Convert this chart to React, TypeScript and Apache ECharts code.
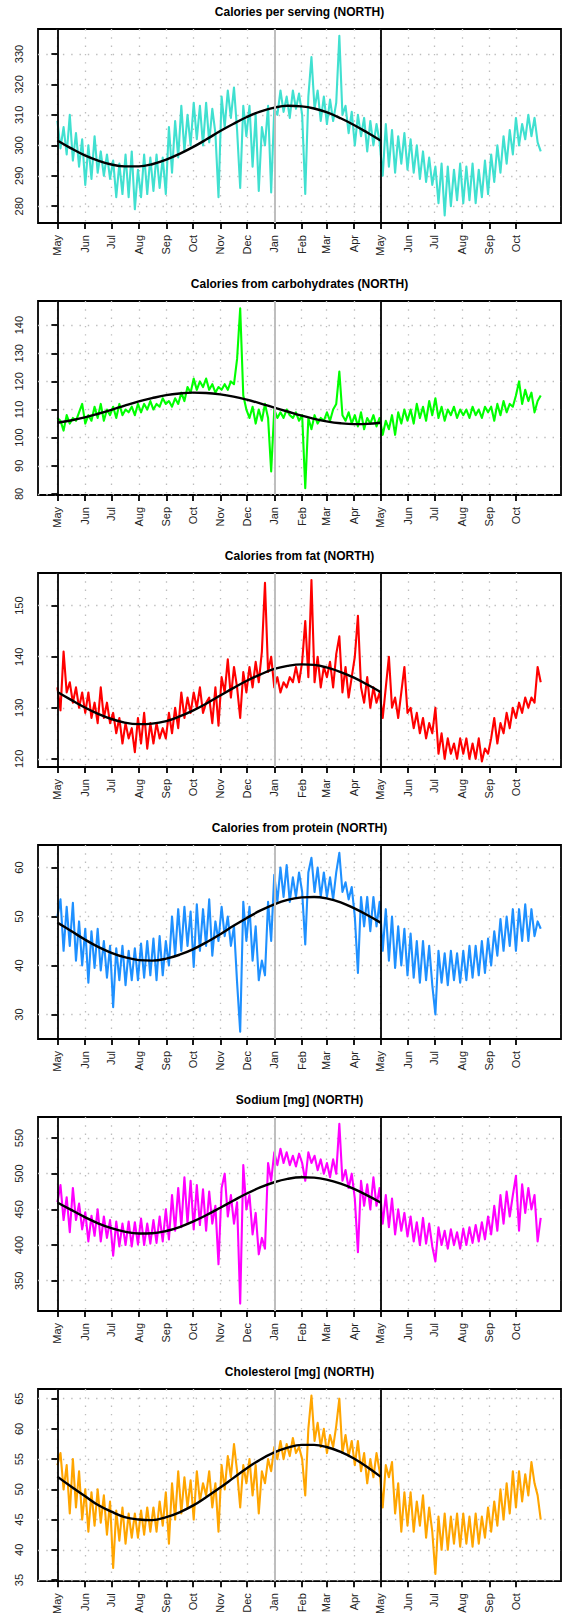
import React, { useEffect, useRef } from 'react';
import * as echarts from 'echarts';

// ---- x axis (days since 1 May of the first year) ----
const STEP_DAYS = 3.5; // sampling step of the series below (two samples per week)
const X_MIN = -21.9;
const X_MAX = 568.9;
const monthDays = [0, 31, 61, 92, 123, 153, 184, 214, 245, 276, 304, 335, 365, 396, 426, 457, 488, 518];
const monthLabels = ['May', 'Jun', 'Jul', 'Aug', 'Sep', 'Oct', 'Nov', 'Dec', 'Jan', 'Feb', 'Mar', 'Apr', 'May', 'Jun', 'Jul', 'Aug', 'Sep', 'Oct'];
const fitDays = [0, 15, 31, 46, 61, 76, 92, 107, 123, 138, 153, 168, 184, 199, 214, 229, 245, 260, 276, 290, 304, 320, 335, 350, 365];
const markerDays = [0, 245, 365];

// ---- titles / colours ----
const titles = [
  'Calories per serving (NORTH)',
  'Calories from carbohydrates (NORTH)',
  'Calories from fat (NORTH)',
  'Calories from protein (NORTH)',
  'Sodium [mg] (NORTH)',
  'Cholesterol [mg] (NORTH)',
];
const colors = ['#40E0D0', '#00FF00', '#FF0000', '#1E90FF', '#FF00FF', '#FFA500'];

// ---- y tick labels ----
const ticksCalServing = [280, 290, 300, 310, 320, 330];
const ticksCarb = [80, 90, 100, 110, 120, 130, 140];
const ticksFat = [120, 130, 140, 150];
const ticksProtein = [30, 40, 50, 60];
const ticksSodium = [350, 400, 450, 500, 550];
const ticksChol = [35, 40, 45, 50, 55, 60, 65];

// ---- y ranges ----
const rangeCalServing = [274.5, 338.2];
const rangeCarb = [79.6, 148.6];
const rangeFat = [118.4, 156.4];
const rangeProtein = [25.0, 64.6];
const rangeSodium = [307.6, 579.4];
const rangeChol = [34.8, 66.6];

// ---- series values (one value every 3.5 days, May .. Oct of the next year) ----
const calServing = [
  308, 299, 306, 297, 310, 295, 304, 293, 302, // May
  287, 300, 289, 303, 291, 298, 290, 297, 289, // Jun
  295, 283, 294, 284, 297, 283, 298, 279, 292, // Jul
  283, 297, 284, 296, 285, 297, 286, 296, 284, // Aug
  306, 291, 308, 296, 313, 298, 310, 300, // Sep
  314, 302, 313, 300, 314, 301, 312, 304, 283, // Oct
  316, 306, 318, 309, 319, 305, 286, 313, 303, // Nov
  313, 293, 310, 285, 306, 300, 313, 284.5, // Dec
  312, 310, 318, 311, 316, 309, 318, 312, 317, // Jan
  310, 284, 316, 329, 312, 318, 308, 316, // Feb
  307, 315, 308, 314, 336, 310, 313, 304, 311, // Mar
  300, 310, 303, 309, 298, 308, 300, 307, 301, // Apr
  290, 307, 293, 305, 291, 303, 294, 304, 292, // May
  302, 291, 300, 289, 298, 288, 296, 287, // Jun
  293, 281, 294, 277, 293, 280, 292, 282, 294, // Jul
  281, 293, 282, 294, 281, 292, 283, 295, 284, // Aug
  297, 288, 300, 291, 303, 294, 305, 297, // Sep
  309, 300, 307, 302, 310, 303, 309, 301, 298, // Oct
];
const carb = [
  107, 106, 102.5, 108, 105, 107, 106, 109, 112,
  105, 108, 106, 111, 107, 112, 106, 110, 108,
  111, 107, 112, 108, 110, 109, 111, 108, 112,
  109, 112, 110, 113, 110, 112, 111, 114, 112,
  113, 111, 114, 112, 116, 113, 118, 116,
  121, 117, 120, 118, 121, 117, 119, 116, 118,
  117, 119, 117, 120, 119, 128, 146, 115, 110,
  107, 111, 105, 110, 106, 112, 107, 88,
  110, 107, 109, 107, 110, 108, 107, 109, 106,
  108, 82, 107, 103, 108, 105, 107, 106,
  109, 106, 110, 112, 123.5, 108, 106, 109, 105,
  108, 104, 109, 103, 107, 105, 108, 104, 107,
  101, 106, 103, 108, 101, 109, 105, 110, 106,
  110, 105, 112, 107, 111, 106, 113, 108,
  114, 107, 111, 106, 110, 108, 111, 107, 110,
  108, 110, 107, 111, 108, 110, 107, 111, 109,
  111, 106, 112, 108, 113, 109, 112, 111,
  115, 120, 112, 117, 113, 116, 109, 113, 115,
];
const fat = [
  134, 129.5, 141, 133, 135, 131, 134, 130, 133,
  129, 133, 128, 131, 127, 134, 128, 131, 127,
  129, 125, 128, 123, 127, 124, 126, 121.3, 128,
  123, 129, 122, 127, 123, 127, 124, 126, 124,
  129, 125, 130, 126, 133, 128, 132, 129,
  133, 130, 134, 129, 131, 132, 127, 134, 126.5,
  136, 133, 139.5, 132, 138, 134, 128, 137, 133,
  138, 134, 139, 135, 141, 154.5, 137, 140,
  134, 136, 133, 135, 134, 136, 135, 138, 135,
  139, 147, 136, 155, 135, 140, 134, 138,
  136, 139, 134, 140.5, 144, 133, 138, 132, 136,
  140, 148, 134, 131, 136, 130, 134, 131, 133,
  128, 134, 140, 130, 132, 128, 133, 138, 129,
  130, 126, 129, 125, 128, 124, 127, 125,
  130, 121, 125, 120, 124, 121, 123, 120, 124,
  121, 124, 120, 123, 120, 124, 119.5, 122, 121,
  124, 128, 123, 127, 125, 129, 126, 130,
  128, 131, 129, 132, 130, 132, 131, 138, 135,
];
const protein = [
  50, 53.5, 43, 52, 44, 52.8, 41, 49, 40,
  47.5, 36.5, 47, 39.5, 47.5, 39, 45, 37.5, 44,
  31.5, 43.5, 37, 44, 36, 43, 37, 43.5, 37,
  44.5, 37.5, 45, 38, 45.5, 37, 46, 38, 45,
  40, 50, 42, 51.5, 43, 52, 44, 51,
  39.7, 52.5, 43, 51.5, 44, 53.5, 42, 49, 45,
  52, 46, 50, 44, 48, 36.5, 26.5, 53, 45,
  52, 41, 48, 37, 41, 38, 53, 45,
  58.5, 53, 60, 54, 60.5, 53, 58, 54, 59,
  55, 44.3, 59, 62, 55, 60, 54, 59,
  54, 58, 53.5, 59, 63, 55, 57, 53.5, 56,
  50, 38.5, 54, 48, 54, 47, 54, 48, 53,
  43, 51.5, 41, 50, 39.5, 48, 40, 47.5, 38,
  46.5, 37.5, 45, 36.5, 45, 37, 44, 36,
  30, 43, 36.5, 42.5, 36, 43, 37, 42.5, 36.5,
  43, 37, 44, 37.5, 44, 38, 45, 38.5, 45.5,
  40, 47, 42, 49.5, 43, 50, 44, 51.5,
  43, 51.5, 45, 52.5, 45, 51.5, 46, 49, 47.5,
];
const sodium = [
  460, 484, 435, 467, 418, 480, 435, 458, 422,
  446, 405, 441, 413, 450, 405, 440, 410, 435,
  385, 433, 398, 430, 400, 433, 398, 432, 401,
  437, 400, 430, 402, 435, 403, 440, 405, 450,
  408, 470, 420, 480, 425, 495, 430, 490,
  422, 484, 428, 478, 420, 475, 430, 455, 373,
  480, 500, 440, 470, 430, 460, 318, 512, 450,
  470, 415, 445, 387, 410, 395, 515, 490,
  530, 512, 535, 515, 530, 512, 525, 510, 528,
  515, 490, 530, 515, 525, 505, 520, 500,
  515, 495, 520, 500, 570, 490, 505, 480, 500,
  465, 390, 490, 455, 485, 450, 495, 455, 480,
  430, 470, 425, 465, 415, 450, 420, 445, 412,
  440, 405, 432, 400, 438, 402, 430, 398,
  377, 425, 400, 420, 395, 422, 400, 418, 395,
  423, 400, 425, 403, 428, 405, 432, 408, 440,
  415, 455, 420, 470, 430, 475, 440, 470,
  497, 420, 485, 445, 480, 450, 470, 405, 438,
];
const cholesterol = [
  54, 56, 50, 54, 46, 55, 47, 53, 45,
  50, 43, 49.5, 44, 50, 44.5, 49, 42.5, 48,
  37, 46.5, 41.5, 47, 41, 46, 42, 46, 42,
  46.5, 42.5, 47, 43, 47, 43, 48, 44, 49.5,
  41, 51, 45, 53, 46, 52, 47, 51.5,
  45, 53, 48, 51, 49, 53, 47, 51, 43,
  54, 50, 55.5, 52, 57.5, 53, 47, 54, 51,
  55, 49, 54, 46, 53, 51, 55, 53,
  57, 55, 58, 55, 57.5, 55.5, 58.5, 56, 57,
  55, 49, 60, 65.5, 58, 61, 57, 60,
  56, 59, 57, 60.5, 65, 56, 59, 55.5, 58,
  54, 58, 53, 56, 51, 55, 52, 56, 53,
  47, 54, 52, 54.5, 46, 51, 43, 49.5, 44,
  49.5, 43, 48, 44, 49, 42, 47, 43,
  36, 45.5, 40, 46, 40, 45.5, 41, 46, 40.5,
  46, 41, 45.5, 40.5, 46, 41, 45.5, 42, 47,
  43, 48, 44, 50, 45, 51, 46, 53,
  47, 53, 48, 52.5, 49, 54.5, 51, 49, 45,
];

// ---- seasonal fit (black curve), read at fitDays ----
const fitCalServing = [301.6, 299.1, 296.7, 295.0, 293.7, 293.1, 293.1, 293.8, 295.3, 297.2, 299.4, 301.9, 304.7, 307.1, 309.3, 311.1, 312.4, 313.0, 312.8, 312.1, 310.9, 308.9, 306.7, 304.2, 301.6];
const fitCarb = [105.3, 106.1, 107.2, 108.5, 109.9, 111.4, 112.9, 114.05, 115.1, 115.7, 116.0, 115.9, 115.4, 114.6, 113.5, 112.2, 110.7, 109.3, 107.8, 106.7, 105.8, 105.1, 104.8, 104.9, 105.3];
const fitFat = [133.1, 131.6, 130.05, 128.8, 127.8, 127.1, 126.8, 126.9, 127.4, 128.3, 129.45, 130.8, 132.4, 133.9, 135.3, 136.5, 137.6, 138.2, 138.5, 138.4, 137.9, 137.0, 135.9, 134.55, 133.1];
const fitProtein = [48.75, 47.1, 45.3, 43.8, 42.6, 41.7, 41.1, 41.0, 41.4, 42.2, 43.3, 44.7, 46.4, 48.1, 49.7, 51.2, 52.5, 53.4, 53.9, 54.0, 53.7, 52.9, 51.7, 50.3, 48.75];
const fitSodium = [459.7, 449.6, 439.2, 430.5, 423.6, 418.8, 416.2, 416.5, 419.7, 425.2, 432.7, 441.7, 452.3, 462.4, 472.2, 480.7, 488.0, 492.7, 494.9, 494.4, 491.7, 486.0, 478.6, 469.6, 459.7];
const fitChol = [52.1, 50.5, 48.9, 47.4, 46.3, 45.4, 45.0, 44.9, 45.4, 46.2, 47.3, 48.7, 50.3, 51.9, 53.5, 54.9, 56.1, 56.9, 57.35, 57.35, 57.0, 56.2, 55.1, 53.7, 52.1];

const seriesValues = [calServing, carb, fat, protein, sodium, cholesterol];
const fitValues = [fitCalServing, fitCarb, fitFat, fitProtein, fitSodium, fitChol];
const yTicks = [ticksCalServing, ticksCarb, ticksFat, ticksProtein, ticksSodium, ticksChol];
const yRanges = [rangeCalServing, rangeCarb, rangeFat, rangeProtein, rangeSodium, rangeChol];

const FONT = '"Liberation Sans", Arial, Helvetica, sans-serif';
const W = 565;
const H = 1617;
const PANEL_H = 272;
const BOX_TOP = 29;
const BOX_H = 194;

function buildOption() {
  const grids: any[] = [];
  const xAxes: any[] = [];
  const yAxes: any[] = [];
  const series: any[] = [];
  const title: any[] = [];
  const dotted = { color: '#bdbdbd', width: 1.3, type: [1.4, 6.9] };

  for (let k = 0; k < 6; k++) {
    title.push({
      text: titles[k],
      left: 299.5,
      top: 6 + PANEL_H * k,
      textAlign: 'center',
      padding: 0,
      textStyle: { fontFamily: FONT, fontSize: 12, fontWeight: 'bold', color: '#000' },
    });
    grids.push({
      left: 38,
      width: 523,
      top: BOX_TOP + PANEL_H * k,
      height: BOX_H,
      show: true,
      borderColor: '#000',
      borderWidth: 1.8,
      backgroundColor: 'transparent',
    });
    xAxes.push({
      type: 'value',
      gridIndex: k,
      min: X_MIN,
      max: X_MAX,
      axisLine: { show: false },
      axisTick: { show: true, customValues: monthDays, length: 6, lineStyle: { color: '#000', width: 1.8 } },
      axisLabel: {
        show: true,
        customValues: monthDays,
        rotate: 90,
        margin: 12,
        fontSize: 11,
        fontFamily: FONT,
        color: '#222',
        formatter: (v: number) => {
          const idx = monthDays.indexOf(Math.round(v));
          return idx >= 0 ? monthLabels[idx] : '';
        },
      },
      splitLine: { show: true, lineStyle: dotted },
    });
    yAxes.push({
      type: 'value',
      gridIndex: k,
      min: yRanges[k][0],
      max: yRanges[k][1],
      axisLine: { show: false },
      axisTick: { show: true, customValues: yTicks[k], length: 6, lineStyle: { color: '#000', width: 1.8 } },
      axisLabel: {
        show: true,
        customValues: yTicks[k],
        rotate: 90,
        margin: 14,
        fontSize: 11,
        fontFamily: FONT,
        color: '#222',
      },
      splitLine: { show: true, lineStyle: dotted },
    });
    series.push({
      type: 'line',
      xAxisIndex: k,
      yAxisIndex: k,
      data: seriesValues[k].map((v, i) => [i * STEP_DAYS, v]),
      showSymbol: false,
      symbol: 'none',
      silent: true,
      z: 2,
      lineStyle: { color: colors[k], width: 2.1, join: 'round' },
      itemStyle: { color: colors[k] },
    });
    series.push({
      type: 'line',
      xAxisIndex: k,
      yAxisIndex: k,
      data: fitDays.map((d, i) => [d, fitValues[k][i]]),
      showSymbol: false,
      symbol: 'none',
      smooth: 0.4,
      silent: true,
      z: 3,
      lineStyle: { color: '#000', width: 2.4 },
      itemStyle: { color: '#000' },
      markLine: {
        silent: true,
        symbol: ['none', 'none'],
        label: { show: false },
        animation: false,
        data: markerDays.map((d) => ({
          xAxis: d,
          lineStyle: d === 245
            ? { color: '#bebebe', width: 2, type: 'solid' }
            : { color: '#000', width: 1.8, type: 'solid' },
        })),
      },
    });
  }

  return {
    animation: false,
    backgroundColor: '#fff',
    title,
    grid: grids,
    xAxis: xAxes,
    yAxis: yAxes,
    series,
  };
}

export default function App() {
  const ref = useRef<HTMLDivElement>(null);
  useEffect(() => {
    if (!ref.current) return;
    const chart = echarts.init(ref.current, null, { renderer: 'svg' });
    chart.setOption(buildOption() as any);
    return () => chart.dispose();
  }, []);
  return (
    <div
      ref={ref}
      style={{ position: 'absolute', left: 0, top: 0, width: W, height: H, background: '#fff' }}
    />
  );
}
